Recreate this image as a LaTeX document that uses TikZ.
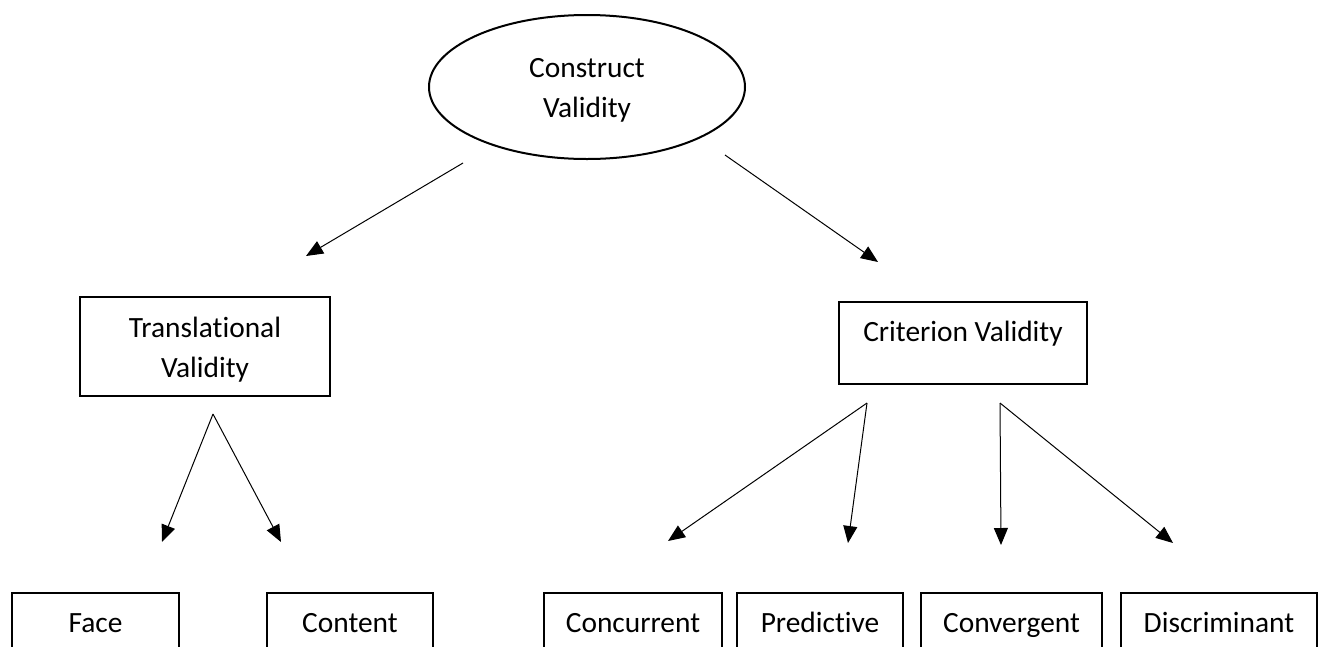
\documentclass[tikz,border=0pt]{standalone}
\usepackage{fontspec}
\setmainfont{Carlito}[Ligatures=NoCommon]
\usetikzlibrary{arrows.meta,shapes.geometric}
\begin{document}
\begin{tikzpicture}[x=1pt,y=-1pt,
  every node/.style={font=\fontsize{29.4pt}{40pt}\selectfont, inner sep=0pt},
  boxnode/.style={draw, line width=2pt, rectangle, align=center},
  leafbox/.style={boxnode, minimum height=60pt, text height=22pt, text depth=4pt},
  ovalnode/.style={draw, line width=2pt, ellipse, align=center},
  plain/.style={align=center},
  conn/.style={line width=1pt, -{Triangle[length=17pt,width=14pt]}}]
\useasboundingbox (0,0) rectangle (1324,646);
\clip (0,0) rectangle (1324,646);
% nodes
\node[ovalnode, minimum width=316pt, minimum height=144pt] (cv) at (587,87) {};
\node[plain] (cvt) at (587,90) {Construct\\Validity};
\node[boxnode, minimum width=250pt, minimum height=99pt] (tv) at (205,346.5) {};
\node[plain] (tvt) at (205,350) {Translational\\Validity};
\node[boxnode, minimum width=248pt, minimum height=82pt] (crv) at (963,343) {};
\node[plain] (crvt) at (963,334) {Criterion Validity};
\node[leafbox, minimum width=167pt] (face) at (95.5,623) {Face};
\node[leafbox, minimum width=166pt] (cont) at (350,623) {Content};
\node[leafbox, minimum width=178pt] (conc) at (633,623) {Concurrent};
\node[leafbox, minimum width=166pt] (pred) at (820,623) {Predictive};
\node[leafbox, minimum width=181pt] (conv) at (1011.5,623) {Convergent};
\node[leafbox, minimum width=196pt] (disc) at (1219,623) {Discriminant};
% connector end points
\coordinate (s1) at (463,163);
\coordinate (e1) at (306,256);
\coordinate (s2) at (725,155);
\coordinate (e2) at (878,262);
\coordinate (s3) at (213,414);
\coordinate (e3) at (162,542);
\coordinate (e4) at (281,542);
\coordinate (s5) at (867,403);
\coordinate (e5) at (668,541);
\coordinate (e6) at (848,543);
\coordinate (s7) at (1000,403);
\coordinate (e7) at (1001,545);
\coordinate (e8) at (1173,543);
% connectors
\draw[conn] (s1) -- (e1);
\draw[conn] (s2) -- (e2);
\draw[conn] (s3) -- (e3);
\draw[conn] (s3) -- (e4);
\draw[conn] (s5) -- (e5);
\draw[conn] (s5) -- (e6);
\draw[conn] (s7) -- (e7);
\draw[conn] (s7) -- (e8);
\end{tikzpicture}
\end{document}
